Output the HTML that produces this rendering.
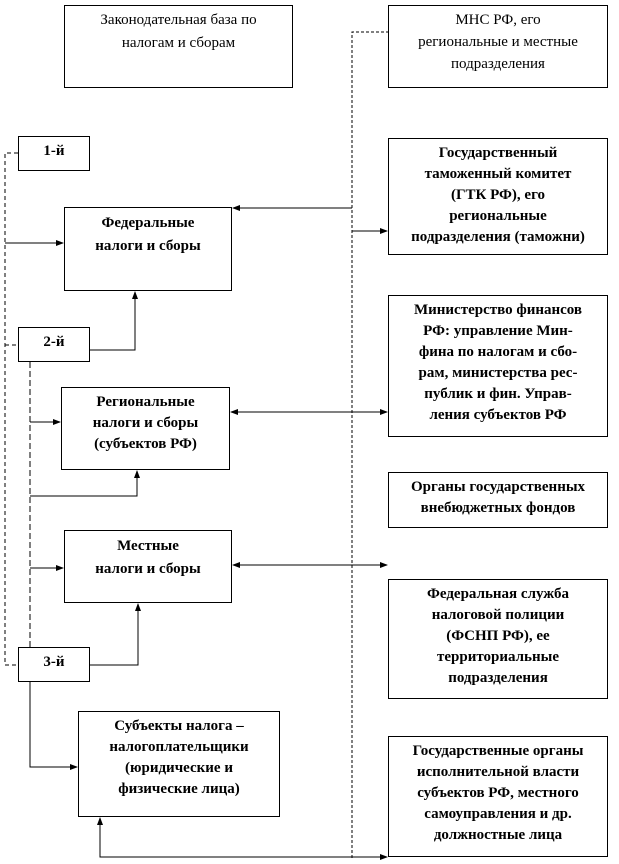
<!DOCTYPE html>
<html><head><meta charset="utf-8"><style>
body{margin:0;background:#fff;width:619px;height:864px;position:relative;overflow:hidden;font-family:"Liberation Serif","Noto Serif CJK SC",serif;}
.b{position:absolute;border:1px solid #000;box-sizing:border-box;font-weight:bold;font-size:15px;line-height:21px;text-align:center;padding-top:4px;color:#000;}
svg{position:absolute;left:0;top:0}
</style></head><body>
<svg width="619" height="864">
<defs><marker id="a" markerWidth="8" markerHeight="8" refX="7" refY="4" orient="auto-start-reverse" markerUnits="userSpaceOnUse"><path d="M0,1 L8,4 L0,7z" fill="#000"/></marker></defs>
<g stroke="#000" stroke-width="1" fill="none">
<path d="M18,153H5V665H18M5,345H18" stroke-dasharray="4,3"/>
<path d="M30,362V647" stroke-dasharray="6,3"/>
<path d="M352,858V32H388" stroke-dasharray="3,2"/>
<path d="M5,243H63" marker-end="url(#a)"/>
<path d="M90,350H135V292" marker-end="url(#a)"/>
<path d="M30,422H60" marker-end="url(#a)"/>
<path d="M30,496H137V471" marker-end="url(#a)"/>
<path d="M30,568H63" marker-end="url(#a)"/>
<path d="M90,665H138V604" marker-end="url(#a)"/>
<path d="M30,682V767H77" marker-end="url(#a)"/>
<path d="M352,208H233" marker-end="url(#a)"/>
<path d="M352,231H387" marker-end="url(#a)"/>
<path d="M231,412H387" marker-start="url(#a)" marker-end="url(#a)"/>
<path d="M233,565H387" marker-start="url(#a)" marker-end="url(#a)"/>
<path d="M100,818V857H387" marker-start="url(#a)" marker-end="url(#a)"/>
</g>
</svg>
<div class="b" style="left:64px;top:5px;width:229px;height:83px;font-weight:normal;line-height:23px;padding-top:3px">Законодательная база по<br>налогам и сборам</div>
<div class="b" style="left:388px;top:5px;width:220px;height:83px;font-weight:normal;line-height:22px;padding-top:3px">МНС РФ, его<br>региональные и местные<br>подразделения</div>
<div class="b" style="left:18px;top:136px;width:72px;height:35px">1-й</div>
<div class="b" style="left:64px;top:207px;width:168px;height:84px;line-height:23px">Федеральные<br>налоги и сборы</div>
<div class="b" style="left:388px;top:138px;width:220px;height:117px">Государственный<br>таможенный комитет<br>(ГТК РФ), его<br>региональные<br>подразделения (таможни)</div>
<div class="b" style="left:18px;top:327px;width:72px;height:35px">2-й</div>
<div class="b" style="left:61px;top:387px;width:169px;height:83px">Региональные<br>налоги и сборы<br>(субъектов РФ)</div>
<div class="b" style="left:388px;top:295px;width:220px;height:142px">Министерство финансов<br>РФ: управление Мин-<br>фина по налогам и сбо-<br>рам, министерства рес-<br>публик и фин. Управ-<br>ления субъектов РФ</div>
<div class="b" style="left:388px;top:472px;width:220px;height:56px">Органы государственных<br>внебюджетных фондов</div>
<div class="b" style="left:64px;top:530px;width:168px;height:73px;line-height:23px">Местные<br>налоги и сборы</div>
<div class="b" style="left:388px;top:579px;width:220px;height:120px">Федеральная служба<br>налоговой полиции<br>(ФСНП РФ), ее<br>территориальные<br>подразделения</div>
<div class="b" style="left:18px;top:647px;width:72px;height:35px">3-й</div>
<div class="b" style="left:78px;top:711px;width:202px;height:106px">Субъекты налога –<br>налогоплательщики<br>(юридические и<br>физические лица)</div>
<div class="b" style="left:388px;top:736px;width:220px;height:121px">Государственные органы<br>исполнительной власти<br>субъектов РФ, местного<br>самоуправления и др.<br>должностные лица</div>
</body></html>
